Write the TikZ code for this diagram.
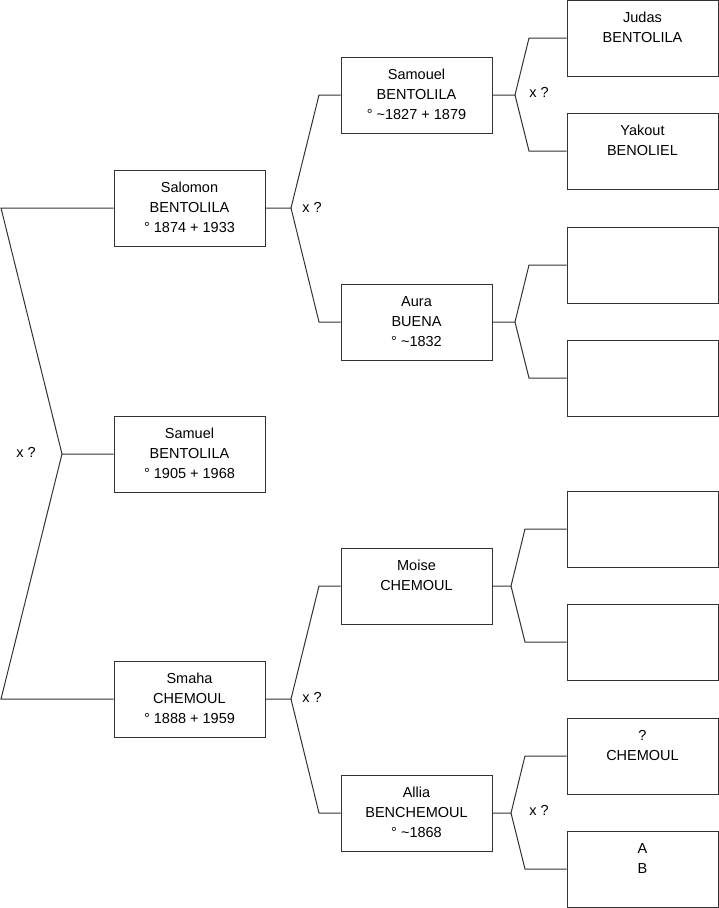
\documentclass[tikz,border=0pt]{standalone}
\usepackage{fontspec}
\setmainfont{Liberation Sans}
\begin{document}
\begin{tikzpicture}[x=1pt,y=-1pt,
  person/.style={draw=black!80,line width=1pt,minimum width=151pt,minimum height=76pt,inner sep=0pt,align=center,font=\fontsize{14.5}{20}\selectfont},
  conn/.style={draw=black!80,line width=1pt},
  lbl/.style={font=\fontsize{14.5}{20}\selectfont,inner sep=0pt}]
\useasboundingbox (0,0) rectangle (719,908);
% column 1
\node[person] (sal) at (189.5,208) {\strut Salomon\\\strut BENTOLILA\\\strut ° 1874 + 1933};
\node[person] (sam) at (189.5,454) {\strut Samuel\\\strut BENTOLILA\\\strut ° 1905 + 1968};
\node[person] (sma) at (189.5,699) {\strut Smaha\\\strut CHEMOUL\\\strut ° 1888 + 1959};
% column 2
\node[person] (sao) at (416.5,95) {\strut Samouel\\\strut BENTOLILA\\\strut ° \textasciitilde 1827 + 1879};
\node[person] (aur) at (416.5,322) {\strut Aura\\\strut BUENA\\\strut ° \textasciitilde 1832};
\node[person] (moi) at (416.5,586) {\strut Moise\\\strut CHEMOUL\\\strut};
\node[person] (all) at (416.5,813) {\strut Allia\\\strut BENCHEMOUL\\\strut ° \textasciitilde 1868};
% column 3
\node[person] (jud) at (642.5,38) {\strut Judas\\\strut BENTOLILA\\\strut};
\node[person] (yak) at (642.5,151) {\strut Yakout\\\strut BENOLIEL\\\strut};
\node[person] (e1) at (642.5,265) {};
\node[person] (e2) at (642.5,378) {};
\node[person] (e3) at (642.5,529) {};
\node[person] (e4) at (642.5,642) {};
\node[person] (che) at (642.5,756) {\strut ?\\\strut CHEMOUL\\\strut};
\node[person] (ab) at (642.5,869) {\strut A\\\strut B\\\strut};
% labels
\node[lbl] (l0) at (26,452) {x ?};
\node[lbl] (l1) at (312,207) {x ?};
\node[lbl] (l2) at (312,697) {x ?};
\node[lbl] (l3) at (539,92) {x ?};
\node[lbl] (l4) at (539,810) {x ?};
% fork coordinates
\coordinate (f0) at (62,454);
\coordinate (f0a) at (1,208);
\coordinate (f0b) at (1,699);
\coordinate (f1) at (291,208);
\coordinate (f1a) at (319,95);
\coordinate (f1b) at (319,322);
\coordinate (f2) at (291,699);
\coordinate (f2a) at (319,586);
\coordinate (f2b) at (319,813);
\coordinate (f3) at (515,95);
\coordinate (f3a) at (529,38);
\coordinate (f3b) at (529,151);
\coordinate (f4) at (515,322);
\coordinate (f4a) at (529,265);
\coordinate (f4b) at (529,378);
\coordinate (f5) at (511,586);
\coordinate (f5a) at (525,529);
\coordinate (f5b) at (525,642);
\coordinate (f6) at (511,813);
\coordinate (f6a) at (525,756);
\coordinate (f6b) at (525,869);
% connectors
\draw[conn] (sam.west) -- (f0) -- (f0a) -- (sal.west);
\draw[conn] (f0) -- (f0b) -- (sma.west);
\draw[conn] (sal.east) -- (f1) -- (f1a) -- (sao.west);
\draw[conn] (f1) -- (f1b) -- (aur.west);
\draw[conn] (sma.east) -- (f2) -- (f2a) -- (moi.west);
\draw[conn] (f2) -- (f2b) -- (all.west);
\draw[conn] (sao.east) -- (f3) -- (f3a) -- (jud.west);
\draw[conn] (f3) -- (f3b) -- (yak.west);
\draw[conn] (aur.east) -- (f4) -- (f4a) -- (e1.west);
\draw[conn] (f4) -- (f4b) -- (e2.west);
\draw[conn] (moi.east) -- (f5) -- (f5a) -- (e3.west);
\draw[conn] (f5) -- (f5b) -- (e4.west);
\draw[conn] (all.east) -- (f6) -- (f6a) -- (che.west);
\draw[conn] (f6) -- (f6b) -- (ab.west);
\end{tikzpicture}
\end{document}
